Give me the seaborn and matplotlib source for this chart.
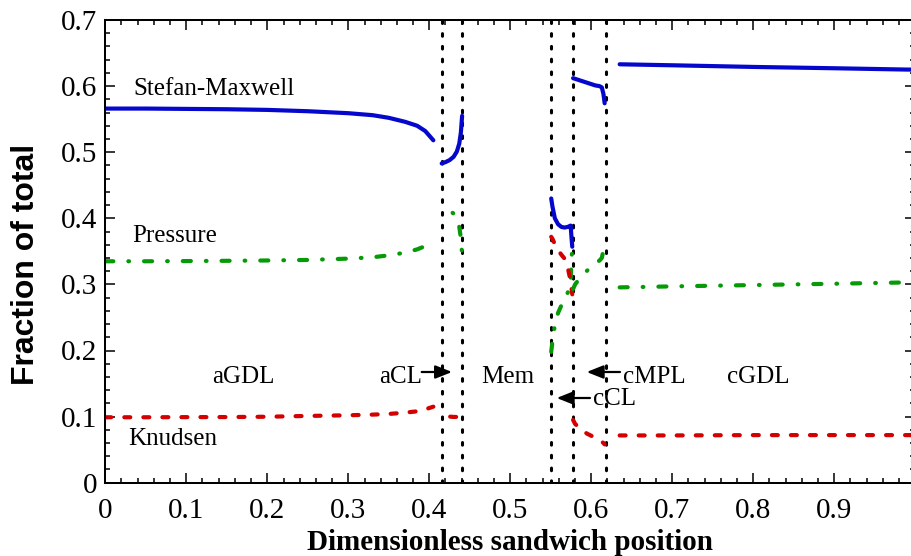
import numpy as np
import pandas as pd
import matplotlib
matplotlib.use("Agg")
import matplotlib.pyplot as plt
from matplotlib.ticker import MultipleLocator
import seaborn as sns

# ---------------- data ----------------
# layer boundaries (dimensionless position)
boundaries = [0.4153, 0.4407, 0.5502, 0.577, 0.618]

# aGDL
x_agdl = [0.0, 0.05, 0.1, 0.15, 0.2, 0.25, 0.3, 0.33, 0.35, 0.37, 0.385, 0.395, 0.405]
sm_agdl = [0.566, 0.566, 0.5655, 0.565, 0.564, 0.562, 0.559, 0.556, 0.552, 0.546, 0.540, 0.532, 0.518]
p_agdl = [0.335, 0.335, 0.3353, 0.3357, 0.3362, 0.337, 0.339, 0.341, 0.344, 0.348, 0.353, 0.358, 0.367]
k_agdl = [0.099, 0.099, 0.0992, 0.0993, 0.0998, 0.101, 0.102, 0.103, 0.104, 0.106, 0.108, 0.111, 0.115]

# aCL
x_acl = [0.4153, 0.42, 0.425, 0.43, 0.434, 0.437, 0.439, 0.4405]
sm_acl = [0.483, 0.485, 0.488, 0.493, 0.501, 0.513, 0.530, 0.555]
p_acl = [0.417, 0.415, 0.412, 0.407, 0.399, 0.387, 0.370, 0.345]
k_acl = [0.100, 0.100, 0.100, 0.0995, 0.0995, 0.0995, 0.099, 0.099]

# cCL
x_ccl = [0.5505, 0.552, 0.555, 0.559, 0.563, 0.567, 0.571, 0.5745, 0.5755, 0.5765]
sm_ccl = [0.430, 0.418, 0.400, 0.391, 0.387, 0.386, 0.387, 0.389, 0.372, 0.357]
p_ccl = [0.198, 0.213, 0.239, 0.257, 0.268, 0.275, 0.288, 0.306, 0.333, 0.358]
k_ccl = [0.372, 0.369, 0.361, 0.352, 0.345, 0.339, 0.325, 0.305, 0.295, 0.285]

# cMPL
x_cmpl = [0.5775, 0.58, 0.585, 0.59, 0.595, 0.60, 0.605, 0.61, 0.613, 0.615, 0.6165]
sm_cmpl = [0.612, 0.611, 0.609, 0.607, 0.605, 0.603, 0.601, 0.600, 0.598, 0.588, 0.574]
p_cmpl = [0.293, 0.300, 0.308, 0.315, 0.321, 0.326, 0.332, 0.336, 0.340, 0.352, 0.368]
k_cmpl = [0.095, 0.089, 0.083, 0.078, 0.074, 0.071, 0.067, 0.064, 0.062, 0.060, 0.058]

# cGDL
x_cgdl = [0.635, 0.7, 0.8, 0.9, 0.99, 1.0]
sm_cgdl = [0.633, 0.6315, 0.629, 0.627, 0.625, 0.625]
p_cgdl = [0.2955, 0.297, 0.299, 0.301, 0.303, 0.303]
k_cgdl = [0.0715, 0.0715, 0.072, 0.072, 0.072, 0.072]

xtick_vals = [0, 0.1, 0.2, 0.3, 0.4, 0.5, 0.6, 0.7, 0.8, 0.9]
xtick_labels = ["0", "0.1", "0.2", "0.3", "0.4", "0.5", "0.6", "0.7", "0.8", "0.9"]
ytick_vals = [0, 0.1, 0.2, 0.3, 0.4, 0.5, 0.6, 0.7]
ytick_labels = ["0", "0.1", "0.2", "0.3", "0.4", "0.5", "0.6", "0.7"]

segments = [
    ("aGDL", x_agdl, sm_agdl, p_agdl, k_agdl),
    ("aCL", x_acl, sm_acl, p_acl, k_acl),
    ("cCL", x_ccl, sm_ccl, p_ccl, k_ccl),
    ("cMPL", x_cmpl, sm_cmpl, p_cmpl, k_cmpl),
    ("cGDL", x_cgdl, sm_cgdl, p_cgdl, k_cgdl),
]

rows = []
for name, xs, sm, p, k in segments:
    for xi, a, b, c in zip(xs, sm, p, k):
        rows.append((name, xi, "Stefan-Maxwell", a))
        rows.append((name, xi, "Pressure", b))
        rows.append((name, xi, "Knudsen", c))
df = pd.DataFrame(rows, columns=["segment", "x", "series", "value"])

# ---------------- style ----------------
sns.set_theme(style="ticks")
plt.rcParams["font.family"] = ["Liberation Serif", "DejaVu Serif"]
plt.rcParams["lines.scale_dashes"] = False
plt.rcParams["text.color"] = "black"
plt.rcParams["axes.labelcolor"] = "black"
plt.rcParams["xtick.color"] = "black"
plt.rcParams["ytick.color"] = "black"
plt.rcParams["xtick.labelcolor"] = "black"
plt.rcParams["ytick.labelcolor"] = "black"

fig = plt.figure(figsize=(9.12, 5.56), dpi=100)
ax = fig.add_axes([105.3 / 912, (556 - 482.7) / 556, 810 / 912, 462.7 / 556])

styles = {
    "Stefan-Maxwell": dict(color="#0508cc", lw=3.0, dash=None),
    "Pressure": dict(color="#079a07", lw=3.0, dash=(5.8, 10.8, 0.5, 10.8)),
    "Knudsen": dict(color="#d40000", lw=3.0, dash=(4.3, 9.4)),
}
# dash-phase per segment (points), so the pattern lands as in the reference
dash_offset = {"aCL": 7.6}

for (seg, ser), sub in df.groupby(["segment", "series"], sort=False):
    st = styles[ser]
    ls = "-" if st["dash"] is None else (dash_offset.get(seg, 0), st["dash"])
    sns.lineplot(data=sub, x="x", y="value", ax=ax, sort=False, estimator=None,
                 color=st["color"], linewidth=st["lw"], linestyle=ls,
                 dash_capstyle="round", solid_capstyle="round", legend=False)

for b in boundaries:
    ax.axvline(b, color="black", lw=2.2, linestyle=(0, (1.9, 7.3)),
               dash_capstyle="round", zorder=1)

ax.set_xlim(0, 1.0)
ax.set_ylim(0, 0.7)
ax.set_xticks(xtick_vals)
ax.set_xticklabels(xtick_labels)
ax.set_yticks(ytick_vals)
ax.set_yticklabels(ytick_labels)
ax.xaxis.set_minor_locator(MultipleLocator(0.02))
ax.yaxis.set_minor_locator(MultipleLocator(0.02))
ax.tick_params(which="both", direction="in", top=True, right=True, color="black")
ax.tick_params(which="major", length=7.2, width=1.1, labelsize=21)
ax.tick_params(which="minor", length=3.6, width=1.1)
ax.tick_params(axis="x", which="major", pad=11)
ax.tick_params(axis="y", which="major", pad=6)
for sp in ax.spines.values():
    sp.set_linewidth(1.45)
    sp.set_color("black")

ax.set_xlabel("Dimensionless sandwich position", fontsize=21, fontweight="bold",
              family=["Liberation Serif"])
ax.xaxis.set_label_coords(0.5, (482.7 - 550) / 462.7)
ax.xaxis.label.set_va("baseline")
ax.set_ylabel("Fraction of total", fontsize=23, fontweight="bold",
              family=["Liberation Sans", "DejaVu Sans"])
ax.yaxis.set_label_coords((26 - 105.3) / 810, (482.7 - 264) / 462.7)
ax.yaxis.label.set_va("center")


def px(xp, yp):
    return ((xp - 105.3) / 810, (482.7 - yp) / 661)


fs = 18
for txt, (xp, yp), ha in [
    ("Stefan-Maxwell", (133, 95), "left"),
    ("Pressure", (132, 242), "left"),
    ("Knudsen", (128, 445), "left"),
    ("aGDL", (212, 383), "left"),
    ("aCL", (421.7, 383), "right"),
    ("Mem", (481.7, 383), "left"),
    ("cMPL", (623, 383), "left"),
    ("cCL", (593.5, 405), "left"),
    ("cGDL", (726.6, 383), "left"),
]:
    xd, yd = px(xp, yp)
    ax.text(xd, yd, txt, fontsize=fs, ha=ha, va="baseline", color="black")

arrow_kw = dict(arrowstyle="-|>,head_length=0.5,head_width=0.2", color="black",
                lw=1.6, mutation_scale=20, shrinkA=0, shrinkB=0)
for (x0, y0), (x1, y1) in [((421.7, 372), (452, 372)),
                           ((620, 372), (586.7, 372)),
                           ((590, 398), (556.7, 398))]:
    ax.annotate("", xy=px(x1, y1), xytext=px(x0, y0), arrowprops=arrow_kw)

fig.savefig("out.png", dpi=100)
